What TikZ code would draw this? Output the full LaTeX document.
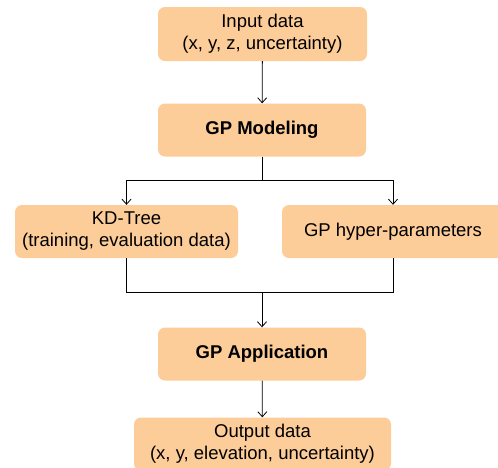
\documentclass[tikz,border=0pt]{standalone}
\usepackage{fontspec}
\setmainfont{Liberation Sans}
\usetikzlibrary{arrows.meta}

\definecolor{peach}{RGB}{252,204,153}

\tikzset{
	block/.style={fill=peach, rounded corners=7pt, align=center,
		font=\fontsize{18.5}{22}\selectfont, inner sep=0pt},
	link/.style={thick, black},
	flow/.style={link, -{Straight Barb[length=5pt, width=9pt]}}
}

\begin{document}
\begin{tikzpicture}[x=1pt, y=-1pt]
	\useasboundingbox (0,0) rectangle (498,467);

	%% Boxes
	\node [block, minimum width=209pt, minimum height=54pt] (input) at (262.5,34)
		{Input data\\(x, y, z, uncertainty)};
	\node [block, minimum width=208pt, minimum height=53pt] (model) at (262,130)
		{\textbf{GP Modeling}};
	\node [block, minimum width=223pt, minimum height=53pt] (kdtree) at (126.5,231.5)
		{KD-Tree\\(training, evaluation data)};
	\node [block, minimum width=222pt, minimum height=53pt] (hyper) at (393,231.5)
		{GP hyper-parameters};
	\node [block, minimum width=208pt, minimum height=53pt] (apply) at (262,354)
		{\textbf{GP Application}};
	\node [block, minimum width=257pt, minimum height=53pt] (output) at (262.5,444)
		{Output data\\(x, y, elevation, uncertainty)};

	%% Branch and join points
	\coordinate (split) at (262,180);
	\coordinate (join) at (262,292);

	%% Connectors
	\draw [flow] (input) -- (model);
	\draw [link] (model) -- (split);
	\draw [flow] (split) -| (kdtree);
	\draw [flow] (split) -| (hyper);
	\draw [link] (kdtree) |- (join);
	\draw [link] (hyper) |- (join);
	\draw [flow] (join) -- (apply);
	\draw [flow] (apply) -- (output);
\end{tikzpicture}
\end{document}
